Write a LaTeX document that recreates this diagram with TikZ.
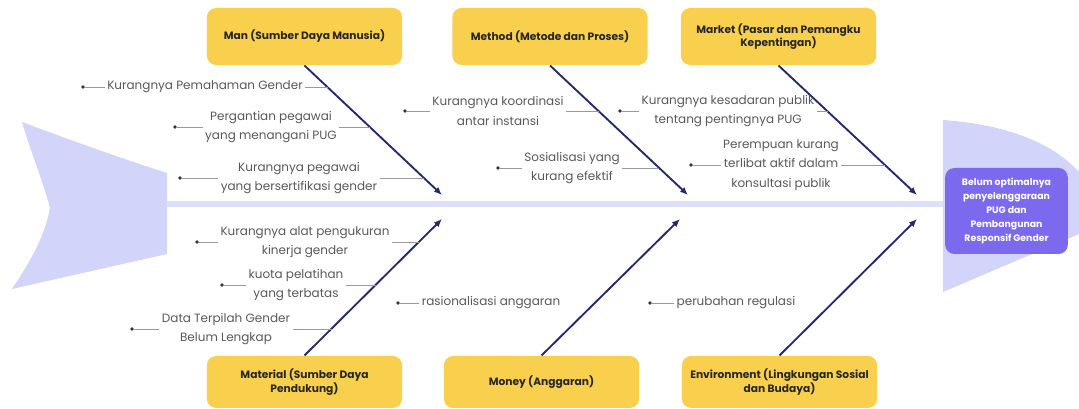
\documentclass[tikz,border=0pt]{standalone}
\usepackage{fontspec}
\setmainfont{Poppins}
\usetikzlibrary{arrows.meta}

\definecolor{bonecol}{RGB}{36,40,110}
\definecolor{boxyellow}{RGB}{249,208,78}
\definecolor{headpurple}{RGB}{124,106,238}
\definecolor{fishlav}{RGB}{210,212,250}
\definecolor{spinelav}{RGB}{222,223,250}
\definecolor{causegray}{RGB}{88,88,88}

\tikzset{every picture/.style={line width=0.75pt},
  catbox/.style={fill=boxyellow, rounded corners=7pt, minimum width=146.5pt, minimum height=42.75pt,
    align=center, inner sep=2pt, text=black!85, font=\fontsize{8}{10}\selectfont\bfseries},
  headbox/.style={fill=headpurple, rounded corners=7pt, minimum width=92pt, minimum height=64.5pt,
    align=center, inner sep=1pt, text=white, font=\fontsize{7}{10.6}\selectfont\bfseries},
  bone/.style={draw=bonecol, line width=1.4pt, -{Latex[length=6pt,width=5pt]}},
  cause/.style={text=causegray, align=center, inner sep=1.5pt, font=\fontsize{9}{14.5}\selectfont},
  leader/.style={draw=gray!80, line width=0.5pt},
  bulletdot/.style={circle, fill=black!80, inner sep=0pt, minimum size=2.8pt}}

\begin{document}
\begin{tikzpicture}[x=0.75pt,y=0.75pt,yscale=-1,xscale=1]
\useasboundingbox (0,0) rectangle (1079,409);

%Shape: Tail
\fill [fishlav] (22,122) .. controls (70,140) and (120,158) .. (167,173) -- (167,254) -- (12,289) .. controls (30,262) and (45,236) .. (50,208) .. controls (42,178) and (30,150) .. (22,122) -- cycle ;
%Shape: Head
\fill [fishlav] (943,120) .. controls (1000,124) and (1050,140) .. (1079,172) -- (1079,234) -- (943,292) -- cycle ;
%Straight Lines: Spine
\draw [spinelav, line width=5pt] (167,204) -- (943,204) ;

%Rounded Rect: categories
\node [catbox] (man) at (304.5,36.5) {Man (Sumber Daya Manusia)};
\node [catbox] (method) at (550,36.5) {Method (Metode dan Proses)};
\node [catbox] (market) at (778.5,36.5) {Market (Pasar dan Pemangku\\Kepentingan)};
\node [catbox, minimum height=39pt] (material) at (304.5,382) {Material (Sumber Daya\\Pendukung)};
\node [catbox, minimum height=39pt] (money) at (541.5,382) {Money (Anggaran)};
\node [catbox, minimum height=39pt] (environment) at (779.5,382) {Environment (Lingkungan Sosial\\dan Budaya)};

%Rounded Rect: effect
\node [headbox] (effect) at (1006.5,211) {Belum optimalnya\\penyelenggaraan\\PUG dan\\Pembangunan\\Responsif Gender};

%Straight Lines: bones
\coordinate (tipman) at (442,195);
\coordinate (tipmethod) at (688,195);
\coordinate (tipmarket) at (917,195);
\coordinate (tipmaterial) at (442,219);
\coordinate (tipmoney) at (680,219);
\coordinate (tipenvironment) at (917,219);
\draw [bone] (man.south) -- (tipman) ;
\draw [bone] (method.south) -- (tipmethod) ;
\draw [bone] (market.south) -- (tipmarket) ;
\draw [bone] (material.north) -- (tipmaterial) ;
\draw [bone] (money.north) -- (tipmoney) ;
\draw [bone] (environment.north) -- (tipenvironment) ;

% Text Node: Man causes
\node [cause] (man1) at (205,87) {Kurangnya Pemahaman Gender};
\node [cause] (man2) at (271,127) {Pergantian pegawai\\yang menangani PUG};
\node [cause] (man3) at (299,178) {Kurangnya pegawai\\yang bersertifikasi gender};
\node [bulletdot] (mandot1) at (83,87) {};
\node [bulletdot] (mandot2) at (175,127) {};
\node [bulletdot] (mandot3) at (180,178) {};
\coordinate (manbone1) at (328,87);
\coordinate (manbone2) at (370,127);
\coordinate (manbone3) at (423.5,178);
\draw [leader] (mandot1) -- (man1.west) (man1.east) -- (manbone1) ;
\draw [leader] (mandot2) -- (man2.west) (man2.east) -- (manbone2) ;
\draw [leader] (mandot3) -- (man3.west) (man3.east) -- (manbone3) ;

% Text Node: Method causes
\node [cause] (method1) at (498,111) {Kurangnya koordinasi\\antar instansi};
\node [cause] (method2) at (572,168) {Sosialisasi yang\\kurang efektif};
\node [bulletdot] (methoddot1) at (405,111) {};
\node [bulletdot] (methoddot2) at (498,168) {};
\coordinate (methodbone1) at (599,111);
\coordinate (methodbone2) at (659,168);
\draw [leader] (methoddot1) -- (method1.west) (method1.east) -- (methodbone1) ;
\draw [leader] (methoddot2) -- (method2.west) (method2.east) -- (methodbone2) ;

% Text Node: Market causes
\node [cause] (market1) at (728,111) {Kurangnya kesadaran publik\\tentang pentingnya PUG};
\node [cause] (market2) at (781,165) {Perempuan kurang\\terlibat aktif dalam\\konsultasi publik};
\node [bulletdot] (marketdot1) at (620,111) {};
\node [bulletdot] (marketdot2) at (691,165) {};
\coordinate (marketbone1) at (827.5,111);
\coordinate (marketbone2) at (885,165);
\draw [leader] (marketdot1) -- (market1.west) (market1.east) -- (marketbone1) ;
\draw [leader] (marketdot2) -- (market2.west) (market2.east) -- (marketbone2) ;

% Text Node: Material causes
\node [cause] (material1) at (305,242) {Kurangnya alat pengukuran\\kinerja gender};
\node [cause] (material2) at (296,285) {kuota pelatihan\\yang terbatas};
\node [cause] (material3) at (226,329) {Data Terpilah Gender\\Belum Lengkap};
\node [bulletdot] (materialdot1) at (197,242) {};
\node [bulletdot] (materialdot2) at (222,285) {};
\node [bulletdot] (materialdot3) at (132,329) {};
\coordinate (materialbone1) at (419,242);
\coordinate (materialbone2) at (376,285);
\coordinate (materialbone3) at (331.5,329);
\draw [leader] (materialdot1) -- (material1.west) (material1.east) -- (materialbone1) ;
\draw [leader] (materialdot2) -- (material2.west) (material2.east) -- (materialbone2) ;
\draw [leader] (materialdot3) -- (material3.west) (material3.east) -- (materialbone3) ;

% Text Node: Money and Environment causes
\node [cause] (money1) at (491,303) {rasionalisasi anggaran};
\node [cause] (environment1) at (736,303) {perubahan regulasi};
\node [bulletdot] (moneydot1) at (398,303) {};
\node [bulletdot] (environmentdot1) at (650,303) {};
\draw [leader] (moneydot1) -- (money1.west) ;
\draw [leader] (environmentdot1) -- (environment1.west) ;

\end{tikzpicture}
\end{document}
